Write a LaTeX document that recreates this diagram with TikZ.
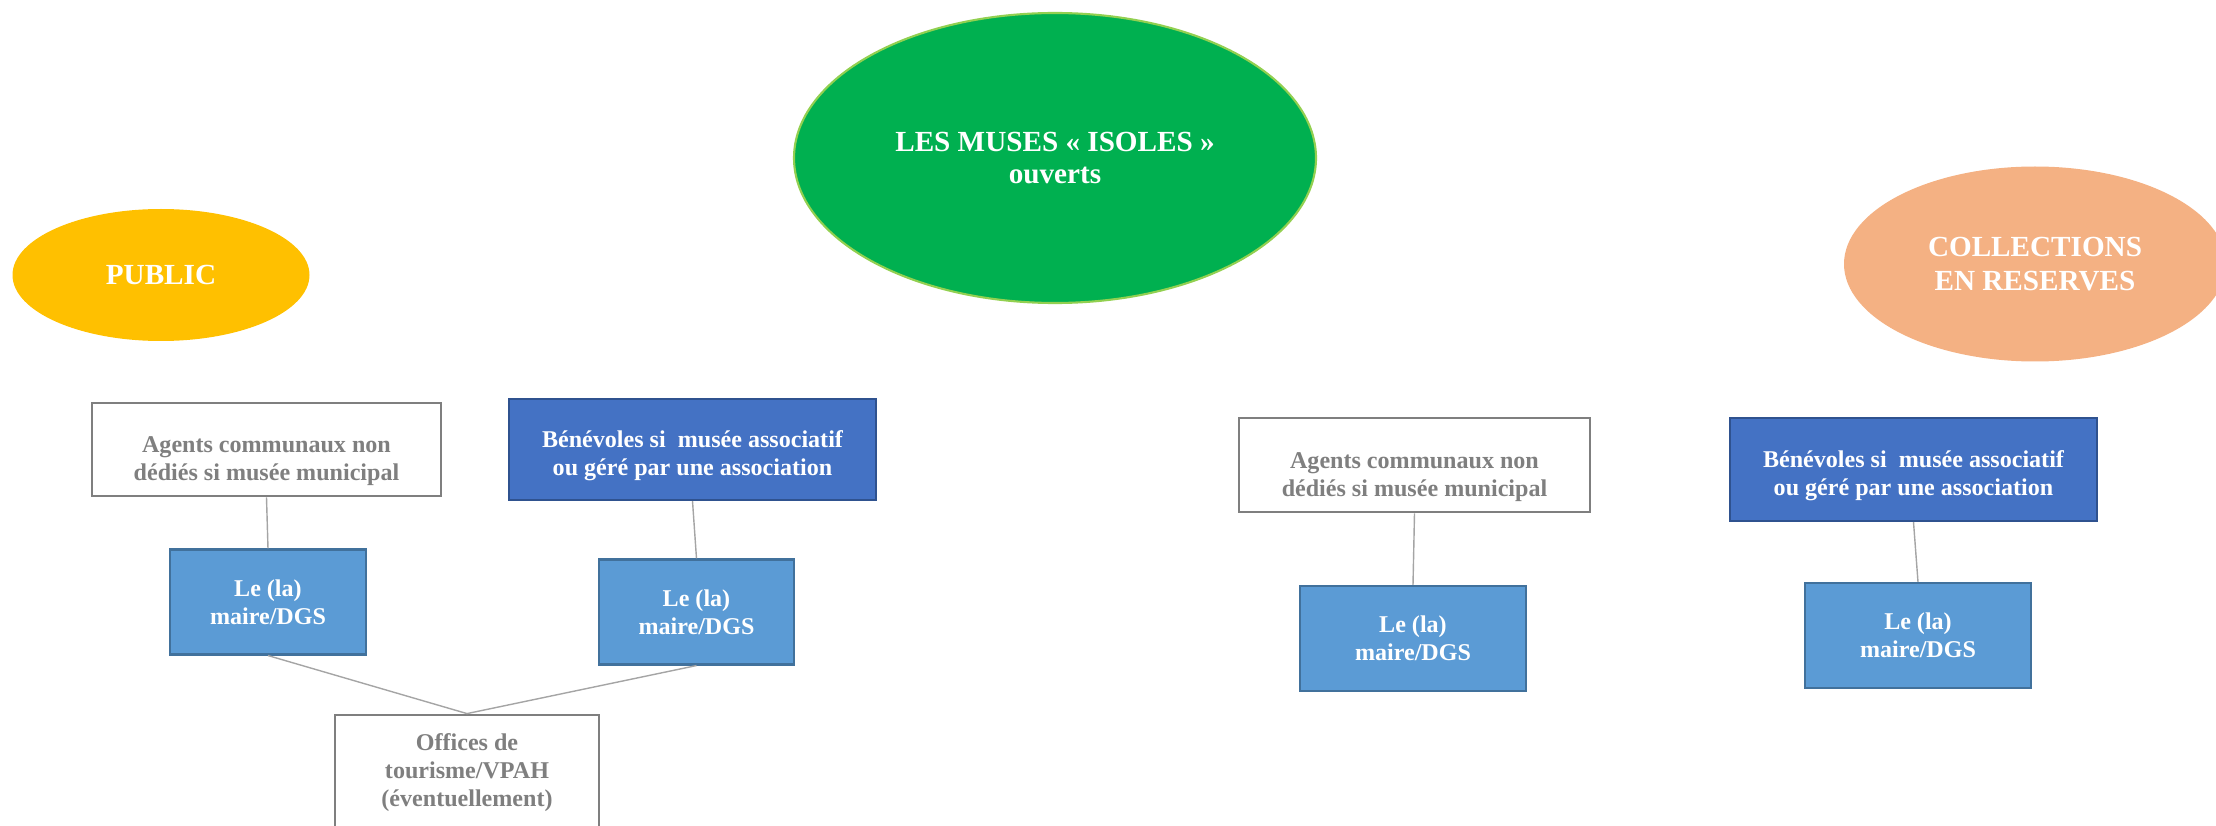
\documentclass[tikz,border=0pt]{standalone}
\usepackage{fontspec}
\setmainfont{Liberation Serif}
\usepackage{tikz}
\usetikzlibrary{shapes.geometric}

\definecolor{musegreen}{HTML}{00B050}
\definecolor{museedge}{HTML}{92D050}
\definecolor{pubyellow}{HTML}{FFC000}
\definecolor{collpeach}{HTML}{F4B183}
\definecolor{agtgray}{HTML}{7F7F7F}
\definecolor{benblue}{HTML}{4472C4}
\definecolor{benedge}{HTML}{2F528F}
\definecolor{mayblue}{HTML}{5B9BD5}
\definecolor{mayedge}{HTML}{41719C}
\definecolor{linkgray}{HTML}{A5A5A5}

% tall strut on a first line pushes the text down in its box
\newcommand{\lowtext}[1]{\rule{0pt}{#1}}

\begin{document}
\begin{tikzpicture}[
      oval/.style={ellipse,inner sep=0pt,align=center,text=white,
        font=\fontsize{8.3}{9.6}\selectfont\bfseries},
      box/.style={rectangle,inner sep=0pt,align=center,
        font=\fontsize{6.85}{8}\selectfont\bfseries},
      agt/.style={box,draw=agtgray,line width=0.8pt,fill=white,text=agtgray},
      ben/.style={box,draw=benedge,line width=0.6pt,fill=benblue,text=white},
      mayor/.style={box,draw=mayedge,line width=0.6pt,fill=mayblue,text=white,
        minimum height=1.05cm},
      link/.style={draw=linkgray,line width=0.4pt}
    ]
    \useasboundingbox (0,0) rectangle (22.16,-8.26);

    % Titles
    \node[oval,fill=musegreen,draw=museedge,line width=0.6pt,
      font=\fontsize{8.3}{9.2}\selectfont\bfseries,
      minimum width=5.22cm,minimum height=2.90cm] (muse) at (10.55,-1.58)
      {LES MUSES « ISOLES »\\ouverts};
    \node[oval,fill=pubyellow,minimum width=2.97cm,minimum height=1.32cm]
      (pub) at (1.61,-2.75) {PUBLIC};
    \node[oval,fill=collpeach,minimum width=3.82cm,minimum height=1.95cm]
      (coll) at (20.35,-2.64) {COLLECTIONS\\EN RESERVES};

    % Public side
    \node[agt,minimum width=3.49cm,minimum height=0.93cm] (agL) at (2.665,-4.495)
      {\lowtext{11pt}Agents communaux non\\dédiés si musée municipal};
    \node[ben,minimum width=3.67cm,minimum height=1.01cm] (beL) at (6.925,-4.495)
      {\lowtext{8.4pt}Bénévoles si\ \ musée associatif\\ou géré par une association};
    \node[mayor,minimum width=1.96cm] (leL1) at (2.68,-6.02) {Le (la)\\maire/DGS};
    \node[mayor,minimum width=1.95cm] (leL2) at (6.965,-6.12) {Le (la)\\maire/DGS};
    \node[agt,minimum width=2.64cm,minimum height=1.15cm] (off) at (4.67,-7.725)
      {Offices de\\tourisme/VPAH\\(éventuellement)};

    \draw[link] (agL.south) -- (leL1.north);
    \draw[link] (beL.south) -- (leL2.north);
    \draw[link] (leL1.south) -- (off.north);
    \draw[link] (leL2.south) -- (off.north);

    % Reserves side
    \node[agt,minimum width=3.51cm,minimum height=0.94cm] (agR) at (14.145,-4.65)
      {\lowtext{11.5pt}Agents communaux non\\dédiés si musée municipal};
    \node[ben,minimum width=3.67cm,minimum height=1.03cm] (beR) at (19.135,-4.695)
      {\lowtext{8.4pt}Bénévoles si\ \ musée associatif\\ou géré par une association};
    \node[mayor,minimum width=2.26cm] (leR1) at (14.13,-6.385) {Le (la)\\maire/DGS};
    \node[mayor,minimum width=2.26cm] (leR2) at (19.18,-6.355) {Le (la)\\maire/DGS};

    \draw[link] (agR.south) -- (leR1.north);
    \draw[link] (beR.south) -- (leR2.north);

  \end{tikzpicture}
\end{document}
